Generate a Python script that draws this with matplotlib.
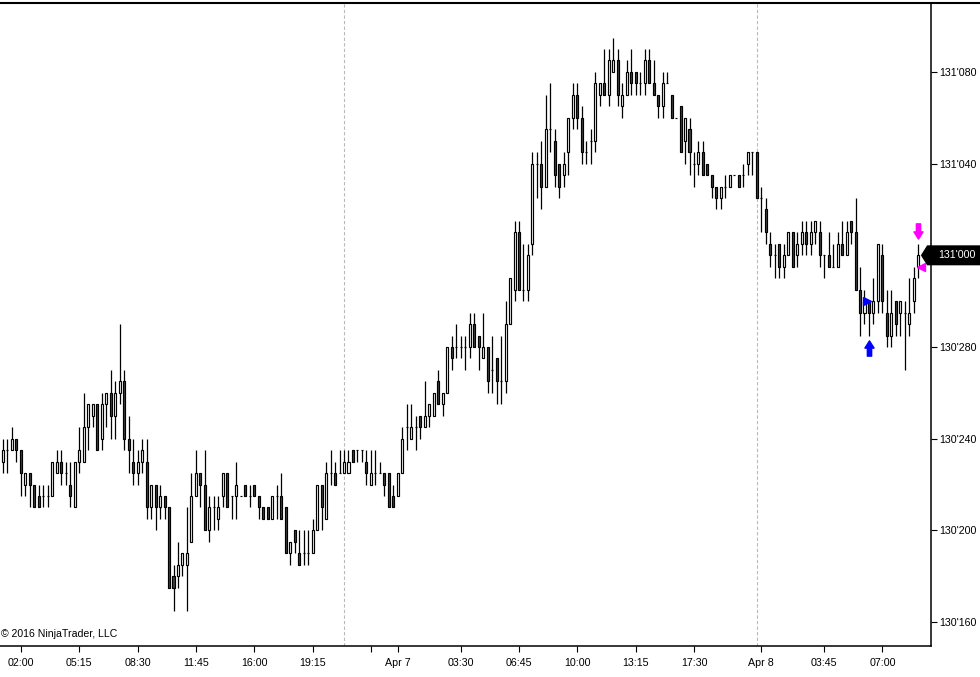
import matplotlib
matplotlib.use('Agg')
import matplotlib.pyplot as plt
from matplotlib.patches import Polygon
from matplotlib.lines import Line2D
from matplotlib.path import Path
import matplotlib.transforms as mtransforms
import numpy as np

plt.rcParams['font.family'] = ['Liberation Sans', 'DejaVu Sans']

# 15 minute bars, prices in 1/64 ticks above 130'160
base_price = 130.5
tick = 1 / 64

opens = [14, 15, 15, 16, 15, 12, 13, 12, 11, 11,
         11, 11, 13, 14, 13, 12, 10, 14, 14, 17,
         18, 19, 16, 19, 20, 18, 20, 21, 16, 14,
         13, 14, 14, 10, 12, 10, 11, 10, 4, 4,
         5, 5, 7, 11, 13, 12, 8, 10, 9, 11,
         13, 11, 11, 11, 12, 11, 12, 11, 10, 10,
         9, 11, 11, 10, 6, 8, 6, 6, 6, 6,
         8, 12, 9, 13, 13, 13, 13, 13, 15, 15,
         15, 14, 12, 13, 13, 13, 13, 11, 11, 13,
         17, 16, 17, 18, 17, 18, 18, 21, 19, 20,
         24, 24, 24, 24, 24, 26, 25, 23, 24, 22,
         23, 21, 21, 26, 29, 34, 29, 29, 33, 40,
         40, 38, 43, 42, 40, 39, 41, 44, 46, 44,
         41, 42, 42, 46, 47, 46, 48, 49, 45, 46,
         48, 48, 47, 47, 49, 47, 46, 45, 47, 46,
         44, 45, 42, 43, 40, 40, 41, 40, 39, 38,
         37, 38, 38, 39, 39, 39, 40, 41, 41, 37,
         36, 33, 32, 33, 31, 32, 34, 32, 33, 34,
         33, 34, 34, 32, 32, 31, 31, 33, 32, 35,
         34, 29, 27, 28, 27, 28, 32, 27, 25, 28,
         27, 27, 26, 28, 31]
highs = [16, 16, 17, 16, 15, 13, 13, 12, 12, 12,
         12, 14, 15, 15, 14, 14, 14, 17, 20, 19,
         19, 19, 20, 20, 22, 21, 26, 22, 18, 16,
         15, 16, 16, 12, 12, 12, 11, 10, 5, 7,
         6, 10, 13, 15, 13, 15, 11, 11, 11, 13,
         13, 11, 14, 11, 12, 12, 12, 11, 10, 10,
         11, 12, 13, 10, 7, 8, 8, 8, 8, 9,
         12, 12, 14, 15, 14, 15, 15, 15, 15, 15,
         15, 15, 15, 15, 14, 13, 13, 12, 13, 17,
         19, 19, 18, 18, 21, 19, 20, 22, 20, 24,
         25, 26, 25, 25, 27, 27, 25, 27, 24, 25,
         23, 25, 28, 30, 35, 35, 33, 33, 41, 41,
         42, 46, 47, 43, 40, 41, 44, 47, 47, 45,
         42, 43, 48, 47, 50, 50, 51, 50, 47, 49,
         50, 48, 48, 50, 50, 49, 46, 48, 48, 46,
         44, 45, 44, 44, 41, 42, 42, 40, 39, 38,
         38, 39, 39, 39, 39, 40, 41, 41, 41, 38,
         37, 34, 33, 33, 33, 34, 34, 34, 35, 35,
         35, 35, 35, 32, 34, 33, 34, 35, 35, 35,
         37, 31, 29, 28, 30, 33, 33, 29, 29, 28,
         28, 28, 30, 31, 33]
lows = [13, 13, 15, 14, 11, 11, 10, 10, 10, 10,
        10, 11, 13, 12, 12, 10, 10, 13, 14, 15,
        17, 15, 15, 17, 16, 16, 19, 15, 13, 12,
        12, 13, 9, 9, 8, 9, 9, 3, 1, 3,
        4, 1, 7, 11, 10, 8, 7, 8, 8, 10,
        10, 9, 9, 11, 11, 10, 11, 9, 9, 9,
        9, 9, 9, 6, 5, 6, 5, 5, 5, 6,
        8, 8, 9, 12, 12, 13, 13, 13, 14, 14,
        14, 12, 12, 12, 13, 11, 10, 10, 11, 13,
        15, 16, 15, 16, 17, 17, 18, 19, 18, 20,
        22, 23, 23, 22, 23, 24, 22, 23, 20, 20,
        19, 19, 20, 26, 28, 29, 28, 28, 32, 37,
        36, 38, 41, 38, 37, 38, 39, 43, 43, 40,
        40, 40, 41, 45, 46, 45, 48, 45, 44, 46,
        46, 46, 46, 46, 47, 46, 44, 44, 47, 44,
        44, 41, 40, 39, 38, 39, 39, 39, 37, 36,
        36, 37, 38, 39, 38, 38, 39, 39, 37, 34,
        33, 31, 30, 30, 30, 32, 31, 31, 32, 32,
        32, 33, 31, 30, 31, 31, 31, 32, 32, 33,
        29, 25, 26, 25, 26, 27, 27, 24, 24, 25,
        25, 22, 25, 27, 30]
closes = [15, 15, 16, 15, 13, 13, 12, 10, 10, 11,
          11, 14, 14, 13, 13, 11, 14, 15, 17, 19,
          19, 15, 19, 20, 18, 20, 21, 16, 15, 13,
          14, 15, 10, 12, 10, 11, 10, 3, 3, 5,
          6, 6, 11, 13, 12, 8, 10, 10, 10, 13,
          10, 11, 12, 11, 11, 11, 11, 10, 9, 9,
          11, 11, 9, 6, 7, 7, 5, 6, 6, 8,
          12, 10, 13, 13, 12, 13, 14, 14, 14, 15,
          15, 13, 13, 13, 13, 12, 10, 10, 13, 16,
          17, 17, 17, 17, 18, 19, 20, 19, 20, 24,
          23, 24, 24, 24, 26, 24, 24, 24, 21, 22,
          21, 21, 26, 30, 34, 29, 29, 32, 40, 40,
          38, 43, 43, 39, 38, 40, 44, 46, 44, 41,
          41, 42, 47, 47, 46, 49, 49, 46, 46, 48,
          47, 47, 47, 49, 47, 46, 45, 47, 47, 44,
          44, 41, 44, 41, 40, 41, 39, 39, 38, 37,
          38, 38, 39, 39, 38, 39, 41, 41, 37, 37,
          34, 32, 32, 31, 32, 34, 31, 33, 34, 33,
          34, 35, 32, 32, 31, 31, 33, 32, 34, 34,
          29, 27, 28, 27, 28, 33, 28, 25, 27, 26,
          28, 27, 27, 30, 32]

xtick_bars = [4, 17, 30, 43, 56, 69, 82, 88, 102, 115, 128, 141, 154, 169, 183, 196]
xtick_labels = ['02:00', '05:15', '08:30', '11:45', '16:00', '19:15', '', 'Apr 7',
                '03:30', '06:45', '10:00', '13:15', '17:30', 'Apr 8', '03:45', '07:00']
session_breaks = [76.1, 168.1]
ytick_prices = [130.5, 130.625, 130.75, 130.875, 131.0, 131.125, 131.25]

# executions: (bar, price in ticks)
entry_bar, entry_tick = 193, 28
exit_bar, exit_tick = 204, 31


def price(v):
    return base_price + np.asarray(v, dtype=float) * tick


def fmt_price(p):
    whole = int(np.floor(p + 1e-9))
    frac = (p - whole) * 32
    return "%d'%03d" % (whole, int(round(frac * 10)))


o, h, l, c = price(opens), price(highs), price(lows), price(closes)
x = np.arange(len(o))

W, H = 980, 677
fig = plt.figure(figsize=(W / 100, H / 100), dpi=100)
ax = fig.add_axes([0, 31 / H, 930.5 / W, (646 - 2.5) / H])
ax.set_xlim(-0.669, 206.71)
ax.set_ylim(base_price - 2.09 * tick, base_price + 54.06 * tick)

for b in session_breaks:
    ax.axvline(b, color='#b9b9b9', lw=0.8, ls=(0, (3, 2)), zorder=1)

ax.vlines(x, l, h, color='black', lw=0.9, zorder=2)
fill = ['#404040' if cc < oo else 'white' for oo, cc in zip(o, c)]
ax.bar(x, c - o, bottom=o, width=0.45, color=fill, edgecolor='black',
       linewidth=0.85, zorder=3)

# arrow markers
arrow_up = Path([(-0.28, -1), (0.28, -1), (0.28, 0.05), (0.6, 0.05), (0, 1),
                 (-0.6, 0.05), (-0.28, 0.05), (-0.28, -1)], closed=True)
arrow_dn = Path([(vx, -vy) for vx, vy in arrow_up.vertices], closed=True)
ax.plot(entry_bar, l[entry_bar] - 1.05 * tick, marker=arrow_up, ms=11,
        color='#0000ff', mec='#0000ff', ls='none', zorder=4)
ax.plot(entry_bar - 0.45, price(entry_tick), marker='>', ms=5.5,
        color='#0000ff', mec='#0000ff', ls='none', zorder=4)
ax.plot(exit_bar, h[exit_bar] + 1.1 * tick, marker=arrow_dn, ms=11,
        color='#ff00ff', mec='#ff00ff', ls='none', zorder=4)
ax.plot(exit_bar + 0.6, price(exit_tick), marker='<', ms=5.5,
        color='#ff00ff', mec='#ff00ff', ls='none', zorder=4)

# axes styling
for s in ['left', 'top']:
    ax.spines[s].set_visible(False)
ax.spines['right'].set_linewidth(1.1)
ax.spines['bottom'].set_linewidth(1.1)
ax.yaxis.tick_right()
ax.set_yticks(ytick_prices)
ax.set_yticklabels([fmt_price(p) for p in ytick_prices])
ax.set_xticks(xtick_bars)
ax.set_xticklabels(xtick_labels)
ax.tick_params(axis='y', length=4.5, width=0.8, pad=2, labelsize=7.7, colors='black')
ax.tick_params(axis='x', length=4.5, width=0.8, pad=4.5, labelsize=7.7, colors='black')

# top border across full width
fig.add_artist(Line2D([0, 1], [1 - 2.5 / H, 1 - 2.5 / H], transform=fig.transFigure,
                      color='black', lw=1.5))

fig.text(0.5 / W, 1 - 634 / H, '\u00a9 2016 NinjaTrader, LLC', fontsize=7.6,
         va='center', ha='left')

# last price marker
last = c[-1]
py = ax.transData.transform((0, last))[1]
verts = [(921.7, py), (927.5, py + 9.3), (W, py + 9.3), (W, py - 9.3), (927.5, py - 9.3)]
fig.add_artist(Polygon(verts, closed=True, transform=mtransforms.IdentityTransform(),
                       facecolor='black', edgecolor='black', zorder=10))
fig.text(938.5 / W, py / H, fmt_price(last), color='white', fontsize=7.7,
         va='center', ha='left', zorder=11)

fig.savefig('out.png', dpi=100, facecolor='white')
